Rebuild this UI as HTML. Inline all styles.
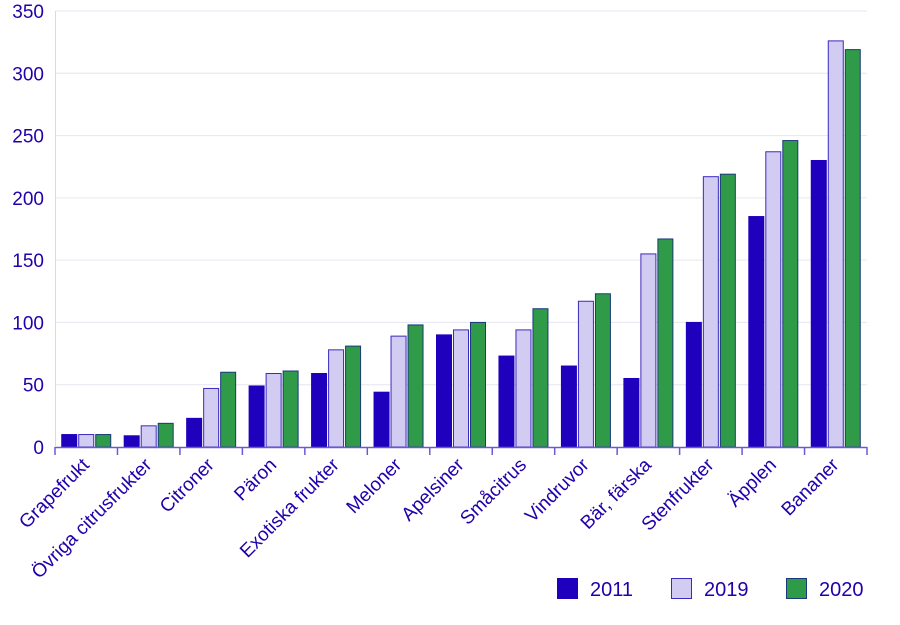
<!DOCTYPE html>
<html><head><meta charset="utf-8"><style>
body{margin:0;background:#fff}
svg{display:block;font-family:"Liberation Sans",sans-serif}
</style></head><body>
<svg id="c" width="900" height="625"></svg>
<script>
const categories=["Grapefrukt","Övriga citrusfrukter","Citroner","Päron","Exotiska frukter","Meloner","Apelsiner","Småcitrus","Vindruvor","Bär, färska","Stenfrukter","Äpplen","Bananer"];
const s2011=[10,9,23,49,59,44,90,73,65,55,100,185,230];
const s2019=[10,17,47,59,78,89,94,94,117,155,217,237,326];
const s2020=[10,19,60,61,81,98,100,111,123,167,219,246,319];
const seriesNames=["2011","2019","2020"];
const yTicks=[0,50,100,150,200,250,300,350];
const NS="http://www.w3.org/2000/svg";
const svg=document.getElementById('c');
const X0=55,X1=867,Y0=447,Y1=11,YMAX=350;
const bw=(X1-X0)/categories.length;
const y=v=>Y0-(v/YMAX)*(Y0-Y1);
const xc=i=>X0+bw*(i+0.5);
function mk(t,a,p){const e=document.createElementNS(NS,t);for(const k in a)e.setAttribute(k,a[k]);(p||svg).appendChild(e);return e;}
const txt='#2200aa';
yTicks.forEach(v=>{
  if(v>0){const g=mk('line',{x1:X0,x2:X1,y1:y(v),y2:y(v),stroke:'#e6e6f2','stroke-width':1});
  
  }
  const t=mk('text',{x:44,y:y(v)+7,'text-anchor':'end','font-size':19,fill:txt});
  t.textContent=v;
  
  
});
const fills=['#1f00bd','#d2ccf2','#2f9a47'];
const strokes=['#1f00bd','#3b2ac0','#1a3a7a'];
const series=[s2011,s2019,s2020];
const barW=16,gap=1;
categories.forEach((c,i)=>{
  series.forEach((s,j)=>{
    const bx=xc(i)-(barW*3+gap*2)/2+j*(barW+gap);
    const r=mk('rect',{x:bx+0.5,y:y(s[i]),width:barW-1,height:Y0-y(s[i]),fill:fills[j],stroke:strokes[j],'stroke-width':1});
    
    
  });
  const t=mk('text',{transform:`translate(${xc(i)+4},${466}) rotate(-45)`,'text-anchor':'end','font-size':19,fill:txt});
  t.textContent=c;
  
  
});
const ax=mk('line',{x1:X0,x2:X1,y1:Y0+0.5,y2:Y0+0.5,stroke:'#6a5ad0','stroke-width':1.5});


const ay=mk('line',{x1:X0+0.5,x2:X0+0.5,y1:Y1,y2:Y0,stroke:'#d8d8ee','stroke-width':1});


for(let i=0;i<=categories.length;i++){
  const tk=mk('line',{x1:X0+bw*i,x2:X0+bw*i,y1:Y0,y2:Y0+8,stroke:'#6a5ad0','stroke-width':1.5});
  
  
}
const lx=[557,671,786];
seriesNames.forEach((n,j)=>{
  const g=mk('g',{});
  
  
  mk('rect',{x:lx[j]+0.5,y:578.5,width:20,height:20,fill:fills[j],stroke:strokes[j],'stroke-width':1},g);
  const t=mk('text',{x:lx[j]+33,y:596,'font-size':20,fill:txt},g);
  t.textContent=n;
});
</script>
</body></html>
